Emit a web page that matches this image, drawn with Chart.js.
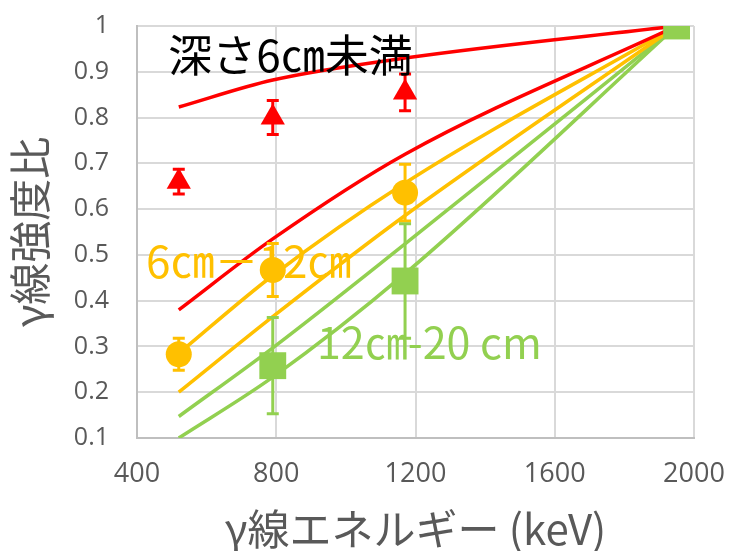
<!DOCTYPE html>
<html>
<head>
<meta charset="utf-8">
<script src="https://cdn.jsdelivr.net/npm/chart.js@4/dist/chart.umd.min.js"></script>
<style>
  html, body { margin: 0; padding: 0; background: #ffffff; }
  #wrap { width: 729px; height: 551px; position: relative; }
</style>
</head>
<body>
<div id="wrap"><canvas id="chart"></canvas></div>
<script>
// energies (keV) where the curves and measurements sit
const energies = [520, 790, 1170, 1950]

// calculated ratio curves, two per depth range
const shallowUpper = [0.823, 0.882, 0.93, 1]
const shallowLower = [0.38, 0.535, 0.72, 1]
const midUpper = [0.285, 0.455, 0.657, 1]
const midLower = [0.2, 0.365, 0.586, 1]
const deepUpper = [0.147, 0.297, 0.524, 1]
const deepLower = [0.1, 0.233, 0.459, 1]

// measured ratios and their errors
const shallowMeasured = [0.66, 0.80, 0.855, null]
const shallowErr = [0.027, 0.037, 0.04, 0]
const midMeasured = [0.283, 0.467, 0.636, null]
const midErr = [0.035, 0.058, 0.062, 0]
const deepMeasured = [null, 0.258, 0.443, 1]
const deepErr = [0, 0.105, 0.125, 0]

const xTicks = [400, 800, 1200, 1600, 2000]

const RED = '#FF0000'
const ORANGE = '#FFC000'
const GREEN = '#92D050'

const toPoints = vals => energies.map((e, i) => ({ x: e, y: vals[i] }))

function curve(vals, color) {
  return {
    type: 'line',
    data: toPoints(vals),
    borderColor: color,
    borderWidth: 3.5,
    pointRadius: 0,
    cubicInterpolationMode: 'monotone',
    order: 3
  }
}

function measured(vals, errs, color, style, radius, order) {
  return {
    type: 'line',
    data: toPoints(vals),
    errors: errs,
    showLine: false,
    backgroundColor: color,
    borderColor: color,
    borderWidth: 0,
    pointStyle: style,
    pointRadius: radius,
    pointHoverRadius: radius,
    order: order
  }
}

const errorBars = {
  id: 'errorBars',
  beforeDatasetDraw(chart, args) {
    const ds = chart.data.datasets[args.index]
    if (!ds.errors) return
    const { ctx, scales: { x, y } } = chart
    ctx.save()
    ctx.strokeStyle = ds.backgroundColor
    ctx.lineWidth = 3
    ds.data.forEach((p, i) => {
      const e = ds.errors[i]
      if (!e || p.y == null) return
      const px = x.getPixelForValue(p.x)
      const top = y.getPixelForValue(p.y + e)
      const bot = y.getPixelForValue(p.y - e)
      ctx.beginPath()
      ctx.moveTo(px, top)
      ctx.lineTo(px, bot)
      ctx.moveTo(px - 6, top)
      ctx.lineTo(px + 6, top)
      ctx.moveTo(px - 6, bot)
      ctx.lineTo(px + 6, bot)
      ctx.stroke()
    })
    ctx.restore()
  }
}

// depth labels, anchored in data units
const notes = [
  { text: '深さ6㎝未満', color: '#000000', at: [490, 0.937], size: 44 },
  { text: '6㎝－12㎝', color: ORANGE, at: [426, 0.485], size: 44 },
  { text: '12㎝-20 cm', color: GREEN, at: [917, 0.308], size: 43 }
]

const noteLabels = {
  id: 'noteLabels',
  afterDatasetsDraw(chart) {
    const { ctx, scales: { x, y } } = chart
    ctx.save()
    ctx.textAlign = 'left'
    ctx.textBaseline = 'middle'
    notes.forEach(n => {
      ctx.font = `${n.size}px "Noto Sans CJK JP"`
      ctx.fillStyle = n.color
      ctx.fillText(n.text, x.getPixelForValue(n.at[0]), y.getPixelForValue(n.at[1]))
    })
    ctx.restore()
  }
}

new Chart(document.getElementById('chart'), {
  data: {
    datasets: [
      curve(shallowUpper, RED),
      curve(shallowLower, RED),
      curve(midUpper, ORANGE),
      curve(midLower, ORANGE),
      curve(deepUpper, GREEN),
      curve(deepLower, GREEN),
      measured(shallowMeasured, shallowErr, RED, 'triangle', 14, 2),
      measured(midMeasured, midErr, ORANGE, 'circle', 13, 1),
      measured(deepMeasured, deepErr, GREEN, 'rect', 19, 0)
    ]
  },
  options: {
    responsive: true,
    maintainAspectRatio: false,
    animation: false,
    layout: { padding: { top: 26, right: 35, left: 0, bottom: 0 } },
    plugins: {
      legend: { display: false },
      tooltip: { enabled: false }
    },
    scales: {
      x: {
        type: 'linear',
        min: 400,
        max: 2000,
        afterBuildTicks: scale => { scale.ticks = xTicks.map(v => ({ value: v })) },
        afterFit: scale => {
          scale.height = 113
          scale.paddingLeft = 0
          scale.paddingRight = 0
        },
        grid: { color: '#D9D9D9', lineWidth: 2, drawTicks: false },
        border: { color: '#BFBFBF', width: 2 },
        ticks: {
          padding: 20,
          color: '#595959',
          font: { family: 'Open Sans', size: 27 },
          callback: v => String(v)
        },
        title: {
          display: true,
          text: 'γ線エネルギー (keV)',
          color: '#595959',
          font: { family: 'Noto Sans CJK JP', size: 42, lineHeight: 1 },
          padding: { top: 0, bottom: 1 }
        }
      },
      y: {
        min: 0.1,
        max: 1,
        ticks: {
          stepSize: 0.1,
          padding: 28,
          color: '#595959',
          font: { family: 'Open Sans', size: 25 },
          callback: v => String(Math.round(v * 10) / 10)
        },
        afterFit: scale => {
          scale.width = 137
          scale.paddingTop = 0
          scale.paddingBottom = 0
        },
        grid: { color: '#D9D9D9', lineWidth: 2, drawTicks: false },
        border: { color: '#BFBFBF', width: 2 },
        title: {
          display: true,
          text: 'γ線強度比',
          color: '#595959',
          font: { family: 'Noto Sans CJK JP', size: 42, lineHeight: 1 },
          padding: { top: 9, bottom: 0 }
        }
      }
    }
  },
  plugins: [errorBars, noteLabels]
})
</script>
</body>
</html>
